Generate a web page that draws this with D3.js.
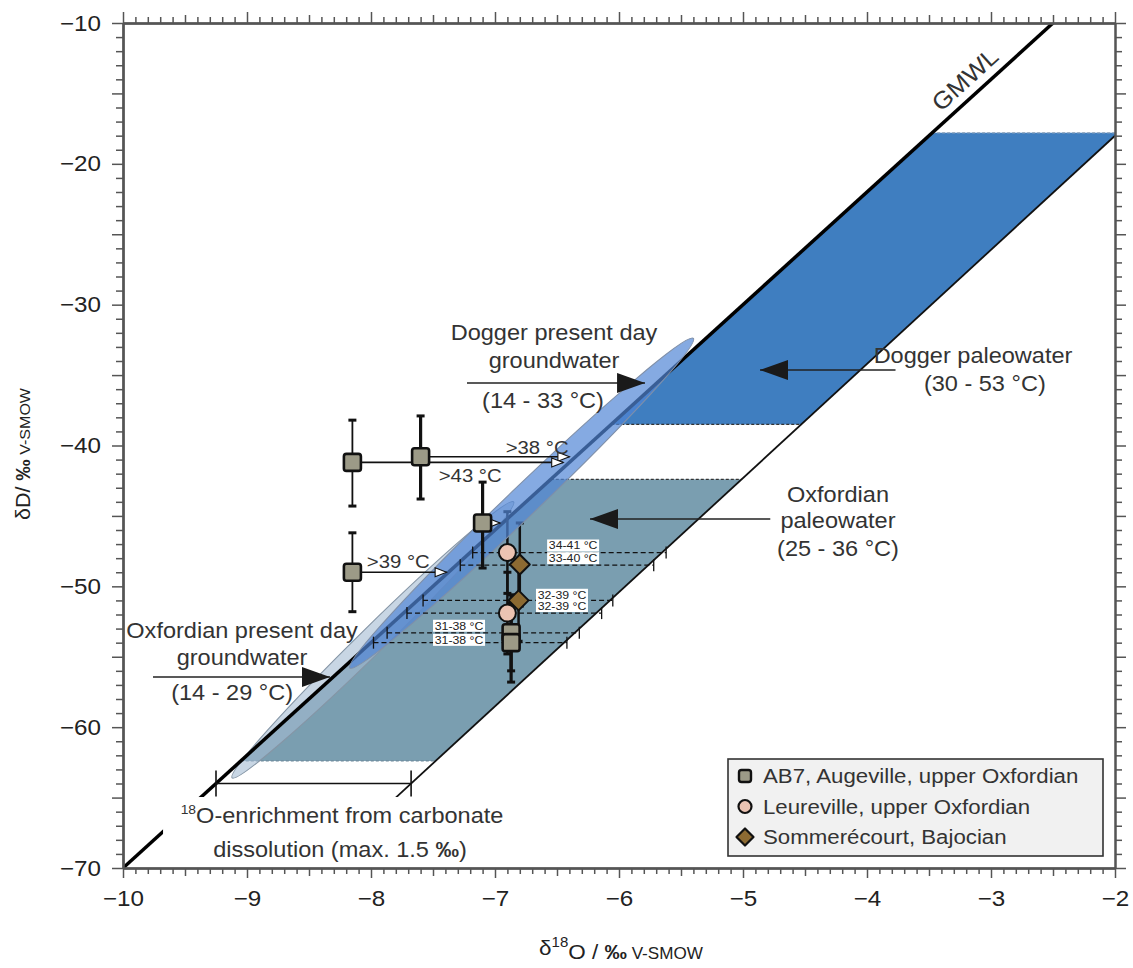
<!DOCTYPE html>
<html><head><meta charset="utf-8">
<script src="https://cdn.jsdelivr.net/npm/d3@7"></script>
<style>
body{margin:0;background:#fff}
svg{display:block}
text{font-family:"Liberation Sans",Arial,Helvetica,sans-serif}
</style>
</head><body>
<svg id="chart" width="1133" height="968"></svg>
<script>
// ---------------- DATA ----------------
const xTicks = [-10, -9, -8, -7, -6, -5, -4, -3, -2];
const yTicks = [-70, -60, -50, -40, -30, -20, -10];
const gmwlSlope = 8, gmwlIntercept = 10;           // δD = 8·δ18O + 10
const enrichmentLine = [[-7.80, -65.0], [-2.0, -18.0]]; // GMWL shifted by ~1.5 ‰ δ18O
const doggerPaleoDD = [-38.5, -17.8];
const oxfordPaleoDD = [-62.4, -42.4];
const doggerPresentTips = [[-5.40, -32.4], [-8.17, -55.8]];
const oxfordPresentTips = [[-6.85, -44.0], [-9.12, -63.6]];
const enrichmentBracketDD = -64.0;

const ab7 = [
  {x: -8.15, y: -41.2, lo: -44.3, hi: -38.2},
  {x: -7.60, y: -40.8, lo: -43.8, hi: -37.9},
  {x: -7.10, y: -45.5, lo: -48.7, hi: -42.6},
  {x: -8.15, y: -49.0, lo: -51.8, hi: -46.2},
  {x: -6.87, y: -53.3, lo: -56.0, hi: -50.6},
  {x: -6.87, y: -54.0, lo: -56.8, hi: -51.2}
];
const leureville = [
  {x: -6.90, y: -47.6, lo: -50.5, hi: -44.7},
  {x: -6.90, y: -51.9, lo: -54.8, hi: -49.0}
];
const sommerecourt = [
  {x: -6.80, y: -48.45, lo: -51.4, hi: -45.5},
  {x: -6.81, y: -51.0, lo: -53.9, hi: -48.1}
];
const minTempArrows = [
  {x0: -7.60, x1: -6.40, y: -40.8, label: ">38 °C", lx: -6.66, ly: -40.1},
  {x0: -8.15, x1: -6.45, y: -41.2, label: ">43 °C", lx: -7.20, ly: -42.1},
  {x0: -8.15, x1: -7.39, y: -49.0, label: ">39 °C", lx: -7.78, ly: -48.2},
  {x0: -7.10, x1: -6.96, y: -45.5, label: "", lx: 0, ly: 0}
];
const tempRanges = [
  {y: -47.6, x0: -7.18, x1: -5.62, label: "34-41 °C", lx: -6.37, ly: -47.1},
  {y: -48.5, x0: -7.28, x1: -5.72, label: "33-40 °C", lx: -6.37, ly: -48.0},
  {y: -51.0, x0: -7.58, x1: -6.05, label: "32-39 °C", lx: -6.46, ly: -50.6},
  {y: -51.9, x0: -7.71, x1: -6.14, label: "32-39 °C", lx: -6.46, ly: -51.4},
  {y: -53.3, x0: -7.87, x1: -6.32, label: "31-38 °C", lx: -7.29, ly: -52.8},
  {y: -54.0, x0: -7.98, x1: -6.42, label: "31-38 °C", lx: -7.29, ly: -53.8}
];
const legendItems = ["AB7, Augeville, upper Oxfordian", "Leureville, upper Oxfordian", "Sommerécourt, Bajocian"];

// ---------------- SETUP ----------------
const svg = d3.select("#chart");
const x = d3.scaleLinear().domain([-10, -2]).range([123, 1115]);
const y = d3.scaleLinear().domain([-70, -10]).range([868, 23]);
const SX = 1.07;
const INK = "#333";

const gmwlX = d => (d - gmwlIntercept) / gmwlSlope;
const [[ex0, ey0], [ex1, ey1]] = enrichmentLine;
const enrichX = d => ex0 + (d - ey0) * (ex1 - ex0) / (ey1 - ey0);

function txt(parent, px, py, str, o = {}) {
  const t = parent.append("text")
    .attr("transform", `translate(${px},${py})` + (o.rot ? ` rotate(${o.rot})` : "") + ` scale(${o.sx || SX},1)`)
    .attr("text-anchor", o.anchor || "middle")
    .attr("dy", o.dy == null ? "0.35em" : o.dy)
    .attr("font-size", o.size || 22)
    .attr("font-weight", o.weight || "normal")
    .attr("fill", o.fill || INK);
  if (str != null) t.text(str);
  return t;
}

const defs = svg.append("defs");
defs.append("clipPath").attr("id", "clip").append("rect")
  .attr("x", x(-10)).attr("y", y(-10)).attr("width", x(-2) - x(-10)).attr("height", y(-70) - y(-10));
defs.append("marker").attr("id", "openArrow").attr("markerUnits", "userSpaceOnUse")
  .attr("markerWidth", 14).attr("markerHeight", 12).attr("refX", 12.5).attr("refY", 5.5).attr("orient", "auto")
  .append("path").attr("d", "M1,1 L12.5,5.5 L1,10 Z").attr("fill", "#fff").attr("stroke", "#111").attr("stroke-width", 1.1);
defs.append("marker").attr("id", "solidArrow").attr("markerUnits", "userSpaceOnUse")
  .attr("markerWidth", 30).attr("markerHeight", 22).attr("refX", 28).attr("refY", 10).attr("orient", "auto")
  .append("path").attr("d", "M0,0 L28,10 L0,20 Z").attr("fill", "#1a1a1a");

const plot = svg.append("g").attr("clip-path", "url(#clip)");
const line = d3.line().x(d => x(d[0])).y(d => y(d[1]));

// ---------------- PALEOWATER BANDS ----------------
function band(lo, hi) {
  return [[gmwlX(lo), lo], [gmwlX(hi), hi], [enrichX(hi), hi], [enrichX(lo), lo]];
}
plot.append("path").attr("d", line(band(...oxfordPaleoDD)) + "Z").attr("fill", "#7a9eb0");
plot.append("path").attr("d", line(band(...doggerPaleoDD)) + "Z").attr("fill", "#3f7ec0");
[[oxfordPaleoDD[0], "#6f8a9c"], [oxfordPaleoDD[1], "#333"], [doggerPaleoDD[0], "#333"], [doggerPaleoDD[1], "#8aa0b8"]]
  .forEach(([d, c]) => {
    plot.append("path").attr("d", line([[gmwlX(d), d], [enrichX(d), d]]))
      .attr("stroke", c).attr("stroke-width", 1.2).attr("stroke-dasharray", "3,2").attr("fill", "none");
  });

// enrichment line
plot.append("path").attr("d", line(enrichmentLine)).attr("stroke", "#111").attr("stroke-width", 1.8).attr("fill", "none");

// ---------------- PRESENT DAY ELLIPSES ----------------
function ellipse(tips, ry, fill, op, stroke) {
  const [a, b] = tips.map(p => [x(p[0]), y(p[1])]);
  const cx = (a[0] + b[0]) / 2, cy = (a[1] + b[1]) / 2;
  const rx = Math.hypot(a[0] - b[0], a[1] - b[1]) / 2;
  const ang = Math.atan2(a[1] - b[1], a[0] - b[0]) * 180 / Math.PI;
  plot.append("ellipse").attr("cx", 0).attr("cy", 0).attr("rx", rx).attr("ry", ry)
    .attr("transform", `translate(${cx},${cy}) rotate(${ang})`)
    .attr("fill", fill).attr("fill-opacity", op).attr("stroke", stroke).attr("stroke-width", 1.1);
}
ellipse(oxfordPresentTips, 13, "#a3bad2", 0.6, "#8595a5");

// GMWL
plot.append("path").attr("d", line([[-10, -10 * gmwlSlope + gmwlIntercept], [-2.5, -2.5 * gmwlSlope + gmwlIntercept]]))
  .attr("stroke", "#000").attr("stroke-width", 3.5).attr("fill", "none");

// error bars of Leureville / Sommerécourt (drawn below the Dogger ellipse)
function errBars(data, w) {
  const g = plot.append("g");
  data.forEach((d, i) => {
    const sw = typeof w === "function" ? w(i) : w;
    g.append("line").attr("x1", x(d.x)).attr("x2", x(d.x)).attr("y1", y(d.lo)).attr("y2", y(d.hi))
      .attr("stroke", "#111").attr("stroke-width", sw);
    [d.lo, d.hi].forEach(v => g.append("line").attr("x1", x(d.x) - 4).attr("x2", x(d.x) + 4)
      .attr("y1", y(v)).attr("y2", y(v)).attr("stroke", "#111").attr("stroke-width", 3));
  });
}
errBars(leureville, 2.5);
errBars(sommerecourt, 2.5);

ellipse(doggerPresentTips, 15, "#5186d6", 0.7, "#7f8fa8");

// ---------------- TEMPERATURE RANGE LINES ----------------
const tr = plot.append("g");
tempRanges.forEach(d => {
  tr.append("line").attr("x1", x(d.x0)).attr("x2", x(d.x1)).attr("y1", y(d.y)).attr("y2", y(d.y))
    .attr("stroke", "#111").attr("stroke-width", 1.3).attr("stroke-dasharray", "5,3");
  [d.x0, d.x1].forEach(v => tr.append("line").attr("x1", x(v)).attr("x2", x(v))
    .attr("y1", y(d.y) - 6).attr("y2", y(d.y) + 6).attr("stroke", "#111").attr("stroke-width", 1.3));
});
tempRanges.forEach(d => {
  tr.append("rect").attr("x", x(d.lx) - 26).attr("y", y(d.ly) - 6).attr("width", 52).attr("height", 12).attr("fill", "#fff");
  txt(tr, x(d.lx), y(d.ly), d.label, {size: 11, fill: "#222", sx: 1.12});
});

// AB7 error bars
const thinBars = new Set([0, 3]);
errBars(ab7, i => thinBars.has(i) ? 1.8 : 3.2);

// minimum temperature arrows
const ar = plot.append("g");
minTempArrows.forEach(d => {
  ar.append("line").attr("x1", x(d.x0) + 8).attr("x2", x(d.x1)).attr("y1", y(d.y)).attr("y2", y(d.y))
    .attr("stroke", "#111").attr("stroke-width", 1.6).attr("marker-end", "url(#openArrow)");
  if (d.label) txt(ar, x(d.lx), y(d.ly), d.label, {size: 19});
});

// ---------------- MARKERS ----------------
const mk = plot.append("g");
function square(g, cx, cy, s, sw) {
  g.append("rect").attr("x", cx - s / 2).attr("y", cy - s / 2).attr("width", s).attr("height", s).attr("rx", 2.5)
    .attr("fill", "#9c9a87").attr("stroke", "#111").attr("stroke-width", sw);
}
function circle(g, cx, cy, r, sw) {
  g.append("circle").attr("cx", cx).attr("cy", cy).attr("r", r).attr("fill", "#ebc3b2").attr("stroke", "#111").attr("stroke-width", sw);
}
function diamond(g, cx, cy, h, sw) {
  g.append("path").attr("d", `M${cx},${cy - h} L${cx + h},${cy} L${cx},${cy + h} L${cx - h},${cy} Z`)
    .attr("fill", "#8c6a32").attr("stroke", "#111").attr("stroke-width", sw).attr("stroke-linejoin", "round");
}
ab7.forEach(d => square(mk, x(d.x), y(d.y), 17, 2.6));
leureville.forEach(d => circle(mk, x(d.x), y(d.y), 8.5, 2));
sommerecourt.forEach(d => diamond(mk, x(d.x), y(d.y), 10, 2));

// ---------------- ANNOTATIONS ----------------
const an = svg.append("g");
// Dogger present day groundwater
txt(an, x(-6.524), y(-31.94), "Dogger present day");
txt(an, x(-6.524), y(-33.93), "groundwater");
an.append("line").attr("x1", x(-7.226)).attr("x2", x(-5.79)).attr("y1", y(-35.56)).attr("y2", y(-35.56))
  .attr("stroke", "#222").attr("stroke-width", 1.6).attr("marker-end", "url(#solidArrow)");
txt(an, x(-6.613), y(-36.77), "(14 - 33 °C)");
// Dogger paleowater
txt(an, x(-3.145), y(-33.57), "Dogger paleowater");
txt(an, x(-3.05), y(-35.56), "(30 - 53 °C)");
an.append("line").attr("x1", x(-3.77)).attr("x2", x(-4.863)).attr("y1", y(-34.64)).attr("y2", y(-34.64))
  .attr("stroke", "#222").attr("stroke-width", 1.6).attr("marker-end", "url(#solidArrow)");
// Oxfordian paleowater
txt(an, x(-4.234), y(-43.45), "Oxfordian");
txt(an, x(-4.234), y(-45.29), "paleowater");
txt(an, x(-4.234), y(-47.28), "(25 - 36 °C)");
an.append("line").attr("x1", x(-4.78)).attr("x2", x(-6.234)).attr("y1", y(-45.22)).attr("y2", y(-45.22))
  .attr("stroke", "#222").attr("stroke-width", 1.6).attr("marker-end", "url(#solidArrow)");
// Oxfordian present day groundwater
txt(an, x(-9.04), y(-53.1), "Oxfordian present day");
txt(an, x(-9.04), y(-55.02), "groundwater");
an.append("line").attr("x1", x(-9.758)).attr("x2", x(-8.331)).attr("y1", y(-56.44)).attr("y2", y(-56.44))
  .attr("stroke", "#222").attr("stroke-width", 1.6).attr("marker-end", "url(#solidArrow)");
txt(an, x(-9.12), y(-57.5), "(14 - 29 °C)");
// GMWL label
const gAng = Math.atan2(y(-10) - y(-70), x(-2.5) - x(-10)) * 180 / Math.PI;
txt(an, x(-3.21), y(-14.0), "GMWL", {rot: gAng, size: 24});

// carbonate dissolution enrichment
an.append("rect").attr("x", x(-9.677)).attr("y", y(-64.96)).attr("width", x(-6.798) - x(-9.677))
  .attr("height", y(-69.86) - y(-64.96)).attr("fill", "#fff");
const bx0 = x(gmwlX(enrichmentBracketDD)), bx1 = x(enrichX(enrichmentBracketDD)), by = y(enrichmentBracketDD);
an.append("line").attr("x1", bx0).attr("x2", bx1).attr("y1", by).attr("y2", by).attr("stroke", "#111").attr("stroke-width", 1.6);
[bx0, bx1].forEach(v => an.append("line").attr("x1", v).attr("x2", v).attr("y1", by - 13).attr("y2", by + 13)
  .attr("stroke", "#111").attr("stroke-width", 1.6));
const t1 = txt(an, x(-8.234), y(-66.55), null);
t1.append("tspan").attr("font-size", 13).attr("dy", "-0.45em").text("18");
t1.append("tspan").attr("dy", "0.45em").text("O-enrichment from carbonate");
const t2 = txt(an, x(-8.25), y(-68.65), null);
t2.append("tspan").text("dissolution (max. 1.5  ");
t2.append("tspan").attr("font-weight", "bold").text("‰");
t2.append("tspan").text(")");

// ---------------- AXES ----------------
const axG = svg.append("g");
const minorX = d3.range(-100, -19).map(v => v / 10).filter(v => Math.abs(v - Math.round(v)) > 1e-6);
const halfX = minorX.filter(v => Math.abs(v * 2 - Math.round(v * 2)) < 1e-6);
const smallX = minorX.filter(v => !halfX.includes(v));
const minorY = d3.range(-70, -9).filter(v => v % 5 !== 0);
const fiveY = d3.range(-70, -9).filter(v => v % 5 === 0);

function addAxis(axis, tr) {
  const g = axG.append("g").attr("transform", tr).call(axis);
  g.selectAll("line").attr("stroke", "#555").attr("stroke-width", 1.5);
  g.select(".domain").attr("stroke", "#555").attr("stroke-width", 2);
  return g;
}
// bottom
addAxis(d3.axisBottom(x).tickValues(smallX).tickSize(6).tickSizeOuter(0).tickFormat(""), `translate(0,${y(-70)})`);
addAxis(d3.axisBottom(x).tickValues(halfX).tickSize(8).tickSizeOuter(0).tickFormat(""), `translate(0,${y(-70)})`);
const bAx = addAxis(d3.axisBottom(x).tickValues(xTicks).tickSize(10).tickSizeOuter(0).tickPadding(12), `translate(0,${y(-70)})`);
// top
addAxis(d3.axisTop(x).tickValues(smallX).tickSize(6).tickSizeOuter(0).tickFormat(""), `translate(0,${y(-10)})`);
addAxis(d3.axisTop(x).tickValues(halfX).tickSize(8).tickSizeOuter(0).tickFormat(""), `translate(0,${y(-10)})`);
addAxis(d3.axisTop(x).tickValues(xTicks).tickSize(11).tickSizeOuter(0).tickFormat(""), `translate(0,${y(-10)})`);
// left
addAxis(d3.axisLeft(y).tickValues(minorY).tickSize(7).tickSizeOuter(0).tickFormat(""), `translate(${x(-10)},0)`);
addAxis(d3.axisLeft(y).tickValues(fiveY.filter(v => v % 10 !== 0)).tickSize(11).tickSizeOuter(0).tickFormat(""), `translate(${x(-10)},0)`);
const lAx = addAxis(d3.axisLeft(y).tickValues(yTicks).tickSize(11).tickSizeOuter(0).tickPadding(11), `translate(${x(-10)},0)`);
// right
addAxis(d3.axisRight(y).tickValues(minorY).tickSize(7).tickSizeOuter(0).tickFormat(""), `translate(${x(-2)},0)`);
addAxis(d3.axisRight(y).tickValues(fiveY).tickSize(11).tickSizeOuter(0).tickFormat(""), `translate(${x(-2)},0)`);

[bAx, lAx].forEach(g => g.selectAll("text")
  .attr("font-size", 22).attr("fill", "#222")
  .attr("font-family", '"Liberation Sans",Arial,sans-serif')
  .attr("transform", `scale(1.1,1)`));
lAx.selectAll("text").attr("x", -22 / 1.1);

// axis titles
const xt = svg.append("text").attr("transform", `translate(${x(-5.984)},${y(-70) + 87}) scale(${SX},1)`)
  .attr("text-anchor", "middle").attr("font-size", 21).attr("fill", "#222");
xt.append("tspan").text("δ");
xt.append("tspan").attr("font-size", 14).attr("dy", "-0.6em").text("18");
xt.append("tspan").attr("dy", "0.6em").text("O / ");
xt.append("tspan").attr("font-weight", "bold").text("‰");
xt.append("tspan").attr("font-size", 16).text(" V-SMOW");

const yt = svg.append("text").attr("transform", `translate(${30},${y(-40.6)}) rotate(-90) scale(${SX},1)`)
  .attr("text-anchor", "middle").attr("font-size", 20).attr("fill", "#222");
yt.append("tspan").text("δD/ ");
yt.append("tspan").attr("font-weight", "bold").text("‰");
yt.append("tspan").attr("font-size", 15).text(" V-SMOW");

// ---------------- LEGEND ----------------
const lg = svg.append("g").attr("transform", "translate(728,759)");
lg.append("rect").attr("width", 375).attr("height", 97).attr("fill", "#f1f1f1").attr("stroke", "#333").attr("stroke-width", 1.6);
const markers = [
  (g, cx, cy) => square(g, cx, cy, 12, 2.4),
  (g, cx, cy) => circle(g, cx, cy, 6.5, 2.2),
  (g, cx, cy) => diamond(g, cx, cy, 8.5, 2.2)
];
legendItems.forEach((s, i) => {
  const cy = 17 + i * 30.5;
  markers[i](lg, 17, cy);
  txt(lg, 35, cy, s, {anchor: "start", size: 21, sx: 1.06});
});
</script>
</body></html>
